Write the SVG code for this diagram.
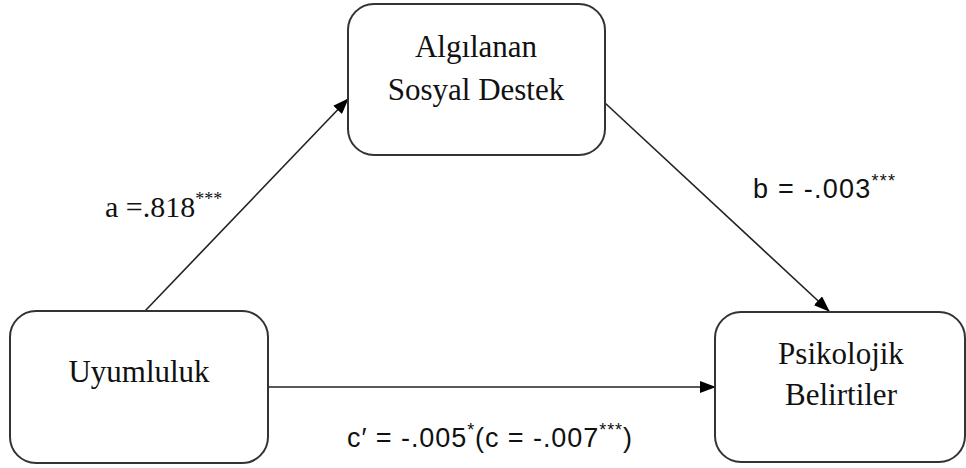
<svg xmlns="http://www.w3.org/2000/svg" width="966" height="468" viewBox="0 0 966 468">
<defs>
<marker id="ah" markerWidth="16" markerHeight="12" refX="15" refY="6" orient="auto" markerUnits="userSpaceOnUse">
<path d="M0,0 L16,6 L0,12 Z" fill="#000"/>
</marker>
<style>
.box{fill:#fff;stroke:#333;stroke-width:2}
.nt{font-family:"Liberation Serif","Times New Roman",serif;font-size:31px;fill:#111;text-anchor:middle}
.conn{stroke:#222;stroke-width:1.6;fill:none;marker-end:url(#ah)}
.lbl{font-family:"Liberation Serif","Times New Roman",serif;font-size:30px;fill:#111}
.lbs{font-family:"Liberation Sans",Arial,sans-serif;font-size:27px;fill:#111}
.sup{font-size:18px}
</style>
</defs>
<rect width="966" height="468" fill="#fff"/>
<g id="connectors">
<line class="conn" x1="145" y1="311" x2="348" y2="99"/>
<line class="conn" x1="605" y1="103" x2="829" y2="311"/>
<line class="conn" x1="268" y1="387" x2="715" y2="387"/>
</g>
<g id="node-destek">
<rect class="box" x="348" y="4" width="257" height="151" rx="26"/>
<text class="nt" x="476" y="57">Algılanan</text>
<text class="nt" x="476" y="100">Sosyal Destek</text>
</g>
<g id="node-uyumluluk">
<rect class="box" x="10" y="311" width="258" height="152" rx="26"/>
<text class="nt" x="139" y="382">Uyumluluk</text>
</g>
<g id="node-psikolojik">
<rect class="box" x="715" y="312" width="250" height="150" rx="26"/>
<text class="nt" x="841" y="364">Psikolojik</text>
<text class="nt" x="841" y="405">Belirtiler</text>
</g>
<g id="labels">
<text class="lbl" x="105" y="217">a =.818<tspan class="sup" dy="-12">***</tspan></text>
<text class="lbs" x="753" y="198" textLength="142" lengthAdjust="spacing">b = -.003<tspan class="sup" dy="-11">***</tspan></text>
<text class="lbs" x="347" y="447" textLength="285" lengthAdjust="spacing">c′ = -.005<tspan class="sup" dy="-11">*</tspan><tspan dy="11">(c = -.007</tspan><tspan class="sup" dy="-11">***</tspan><tspan dy="11">)</tspan></text>
</g>
</svg>
